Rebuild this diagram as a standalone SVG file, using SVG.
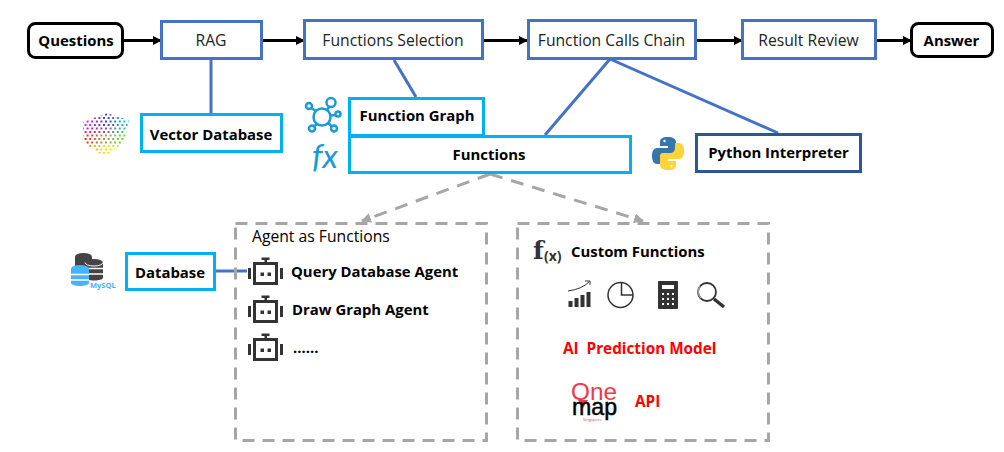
<svg xmlns="http://www.w3.org/2000/svg" width="1004" height="452" viewBox="0 0 1004 452">
<style>
text{font-family:"Open Sans","Noto Sans","Liberation Sans",sans-serif;fill:#000;white-space:pre}
.b{font-weight:700;font-size:14.9px}
.r{font-size:15.7px;fill:#222}
.c{text-anchor:middle}
.blk{fill:#fff;stroke:#000;stroke-width:3}
.blue{fill:#fff;stroke:#4472C4;stroke-width:3}
.cy{fill:#fff;stroke:#00B0F0;stroke-width:3}
.nav{fill:#fff;stroke:#2F5597;stroke-width:3}
.dash{fill:none;stroke:#A6A6A6;stroke-width:3;stroke-dasharray:12 8}
.ln{fill:none;stroke:#4472C4;stroke-width:3}
.ar{fill:none;stroke:#000;stroke-width:3;marker-end:url(#a)}
.da{fill:none;stroke:#A6A6A6;stroke-width:3;stroke-dasharray:13 9;marker-end:url(#g)}
.red{fill:#f00;font-weight:700;font-size:15.3px}
.ic{fill:none;stroke:#333;stroke-width:3}
.icf{fill:#333}
.bl{fill:none;stroke:#1B9AD6;stroke-width:2.500}
.d1{fill:none;stroke-width:2.200;stroke-dasharray:2 2.600}
</style>
<defs>
<marker id="a" markerUnits="userSpaceOnUse" markerWidth="9" markerHeight="9" refX="8" refY="4.500" orient="auto"><path d="M0 0L9 4.500L0 9z" fill="#000"/></marker>
<marker id="g" markerUnits="userSpaceOnUse" markerWidth="11" markerHeight="10" refX="9" refY="5" orient="auto"><path d="M0 0L10 5L0 10z" fill="#A6A6A6"/></marker>
<linearGradient id="v1" gradientUnits="userSpaceOnUse" x1="82" y1="0" x2="128" y2="0"><stop offset="0" stop-color="#f020e0"/><stop offset=".55" stop-color="#3a45c8"/><stop offset="1" stop-color="#20d0f0"/></linearGradient>
<linearGradient id="v2" gradientUnits="userSpaceOnUse" x1="82" y1="0" x2="128" y2="0"><stop offset="0" stop-color="#f01080"/><stop offset=".5" stop-color="#905090"/><stop offset="1" stop-color="#20e080"/></linearGradient>
<linearGradient id="v3" gradientUnits="userSpaceOnUse" x1="82" y1="0" x2="128" y2="0"><stop offset="0" stop-color="#e81818"/><stop offset=".5" stop-color="#b09868"/><stop offset="1" stop-color="#60e030"/></linearGradient>
<linearGradient id="v4" gradientUnits="userSpaceOnUse" x1="82" y1="0" x2="128" y2="0"><stop offset="0" stop-color="#f07010"/><stop offset=".5" stop-color="#f8e020"/><stop offset="1" stop-color="#a0f030"/></linearGradient>
<clipPath id="vc"><path d="M83 122L107 113L129 120L124 142L105 157L84 143z"/></clipPath>
<g id="bot">
<rect class="ic" x="-11" y="-10" width="22" height="20"/>
<path class="icf" d="M-5 -1h3.500v3.500h-3.500zM2 -1h3.500v3.500h-3.500zM-17.500 -5.500h3v11h-3zM14.500 -5.500h3v11h-3zM-1 -14h2.500v3h-2.500zM-4 -16h8v2.500h-8z"/>
</g>
</defs>
<g id="connectors">
<path class="ln" d="M211 60V114"/>
<path class="ln" d="M394 60L416 97"/>
<path class="ln" d="M610 59L545 135"/>
<path class="ln" d="M610 59L778 133"/>
<path class="ln" d="M216 271H247"/>
<path class="ar" d="M124 40.500H161"/>
<path class="ar" d="M263 40.500H304"/>
<path class="ar" d="M484 40.500H527"/>
<path class="ar" d="M697 40.500H742"/>
<path class="ar" d="M877 40.500H911"/>
<path class="da" d="M490 174L362 221"/>
<path class="da" d="M490 174L643 221"/>
</g>
<g id="questions"><rect class="blk" x="28.500" y="23.500" width="94" height="34" rx="7"/><text class="b c" x="76" y="46">Questions</text></g>
<g id="rag"><rect class="blue" x="161.500" y="21.500" width="100" height="37"/><text class="r c" x="211" y="46">RAG</text></g>
<g id="functions-selection"><rect class="blue" x="304.500" y="20.500" width="178" height="38"/><text class="r c" x="393" y="46">Functions Selection</text></g>
<g id="function-calls-chain"><rect class="blue" x="528.500" y="20.500" width="167" height="38"/><text class="r c" x="611.500" y="46">Function Calls Chain</text></g>
<g id="result-review"><rect class="blue" x="742.500" y="20.500" width="133" height="38"/><text class="r c" x="808.500" y="46">Result Review</text></g>
<g id="answer"><rect class="blk" x="911.500" y="23.500" width="81" height="33" rx="7"/><text class="b c" x="951.500" y="46">Answer</text></g>
<g id="vector-database"><rect class="cy" x="141.500" y="114.500" width="140" height="37"/><text class="b c" x="211" y="140">Vector Database</text>
<g id="vector-icon" clip-path="url(#vc)">
<path class="d1" stroke="url(#v1)" d="M82 114.500H130"/>
<path class="d1" stroke="url(#v1)" stroke-dashoffset="2" d="M82 118H130"/>
<path class="d1" stroke="url(#v1)" d="M82 121.500H130"/>
<path class="d1" stroke="url(#v1)" stroke-dashoffset="2" d="M82 125H130"/>
<path class="d1" stroke="url(#v2)" d="M82 128.500H130"/>
<path class="d1" stroke="url(#v2)" stroke-dashoffset="2" d="M82 132H130"/>
<path class="d1" stroke="url(#v3)" d="M82 135.500H130"/>
<path class="d1" stroke="url(#v3)" stroke-dashoffset="2" d="M82 139H130"/>
<path class="d1" stroke="url(#v3)" d="M82 142.500H130"/>
<path class="d1" stroke="url(#v4)" stroke-dashoffset="2" d="M82 146H130"/>
<path class="d1" stroke="url(#v4)" d="M82 149.500H130"/>
<path class="d1" stroke="url(#v4)" stroke-dashoffset="2" d="M82 153H130"/>
</g></g>
<g id="function-graph"><rect class="cy" x="349.500" y="98.500" width="134" height="37"/><text class="b c" x="417" y="121">Function Graph</text>
<g id="graph-icon"><circle class="bl" cx="322" cy="117" r="8.500"/><circle class="bl" cx="331" cy="102.500" r="4.500"/><circle class="bl" cx="309" cy="106" r="3"/><circle class="bl" cx="338" cy="114" r="2.500"/><circle class="bl" cx="312" cy="128.500" r="3"/><circle class="bl" cx="334" cy="128.500" r="3"/><path class="bl" d="M327 110L329 107M311 108L316 111M331 115.500L335 115M314 126.500L317 124M332 126.500L328 123"/></g></g>
<g id="functions"><rect class="cy" x="349.500" y="136.500" width="281" height="36"/><text class="b c" x="489" y="160">Functions</text>
<text x="312" y="168" font-size="33" font-style="italic" style="font-family:'Lato','Liberation Sans',sans-serif;fill:#1B9AD6">fx</text></g>
<g id="python-interpreter"><rect class="nav" x="696.500" y="134.500" width="164" height="37"/><text class="b c" x="778.500" y="158">Python Interpreter</text>
<g id="python-icon"><path d="M668 137c-6 0-8 2-8 5v4h8v2h-11c-3 0-5 3-5 8s2 8 5 8h4v-5c0-3 2-5 5-5h7c2 0 3-1 3-3v-9c0-3-3-5-8-5z" fill="#3776AB"/><path d="M668 170c6 0 8-2 8-5v-4h-8v-2h11c3 0 5-3 5-8s-2-8-5-8h-4v5c0 3-2 5-5 5h-7c-2 0-3 1-3 3v9c0 3 3 5 8 5z" fill="#FFD43B"/><circle cx="664.500" cy="141" r="1.200" fill="#fff"/><circle cx="671.500" cy="166" r="1.200" fill="#fff"/></g></g>
<g id="database"><rect class="cy" x="126.500" y="253.500" width="88" height="36"/><text class="b c" x="170" y="278">Database</text>
<g id="mysql-icon"><ellipse cx="83.500" cy="256.500" rx="8.500" ry="3.500" fill="#444"/><path d="M75 257h17v15h-17z" fill="#444"/><ellipse cx="94" cy="262.500" rx="9" ry="3.500" fill="#444"/><path d="M85 263h18v15c0 1-4 2.500-9 2.500s-9-1.500-9-2.500z" fill="#444"/><path d="M85 268.500h18M85 274h18" stroke="#fff" stroke-width="1.500"/><path d="M85 262.500a9 3.500 0 0 0 18 0" fill="none" stroke="#fff" stroke-width="1"/>
<ellipse cx="80" cy="268.500" rx="9" ry="3.500" fill="#45B3FF"/><path d="M71 269h18v14c0 1.500-4 3-9 3s-9-1.500-9-3z" fill="#45B3FF"/><path d="M71 274.500h18M71 280h18" stroke="#fff" stroke-width="1.500"/>
<text x="90" y="288" font-size="7.500" font-weight="700" style="fill:#45B3FF">MySQL</text></g></g>
<g id="agent-functions"><rect class="dash" x="235.500" y="223.500" width="251" height="217"/><text class="r" x="252" y="242" style="fill:#000">Agent as Functions</text>
<use href="#bot" x="265.500" y="273.500"/><text class="b" x="291" y="277">Query Database Agent</text>
<use href="#bot" x="265.500" y="311.500"/><text class="b" x="292" y="315">Draw Graph Agent</text>
<use href="#bot" x="265.500" y="349.500"/><text class="b" x="293" y="353">......</text></g>
<g id="custom-functions"><rect class="dash" x="517.500" y="223.500" width="251" height="217"/>
<text x="533" y="259" font-size="25" font-weight="700" style="font-family:'DejaVu Serif',serif;fill:#333">f</text><text x="544" y="261" font-size="14" font-weight="700" style="fill:#333">(x)</text>
<text class="b" x="571" y="257">Custom Functions</text>
<g id="tool-icons"><path d="M568.500 307h4v-6h-4zM574.500 307h4v-9h-4zM580.500 307h4v-12h-4zM586.500 307h4v-15h-4z" fill="#333"/><path d="M568 291Q582 289 589 282M585 281h5v4" fill="none" stroke="#333" stroke-width="1"/>
<circle cx="620.500" cy="295" r="12.500" fill="none" stroke="#333" stroke-width="1.500"/><path d="M621.500 282.500V295H633" fill="none" stroke="#333" stroke-width="1.500"/>
<rect x="658" y="281" width="20" height="28" rx="1" fill="#333"/><rect x="662" y="285" width="12" height="4" fill="#fff"/><path d="M662 293h2v2h-2zM667 293h2v2h-2zM672 293h2v2h-2zM662 298h2v2h-2zM667 298h2v2h-2zM672 298h2v2h-2zM662 303h2v2h-2zM667 303h2v2h-2zM672 303h2v2h-2z" fill="#fff"/>
<circle cx="707" cy="292" r="9" fill="none" stroke="#333" stroke-width="1.800"/><path d="M701 298a9 9 0 0 1 -1 -12" fill="none" stroke="#999" stroke-width="1.500"/><path d="M714 299L724 307" stroke="#333" stroke-width="3.500" fill="none"/></g>
<text class="red" x="563" y="354">AI  Prediction Model</text>
<text class="red" x="635" y="407">API</text>
<g id="onemap-logo"><path d="M578 400L583 408L588 400z" fill="#EE3A4A"/><text x="571" y="400" font-size="24" style="font-family:'Liberation Sans',sans-serif;fill:#EE3A4A" textLength="46" lengthAdjust="spacingAndGlyphs">One</text><text x="572" y="415" font-size="24" style="font-family:'Liberation Sans',sans-serif;stroke:#000;stroke-width:.5" textLength="45" lengthAdjust="spacingAndGlyphs">map</text><text x="583" y="420.500" font-size="4" style="fill:#EE3A4A">Singapore</text></g></g>
</svg>
